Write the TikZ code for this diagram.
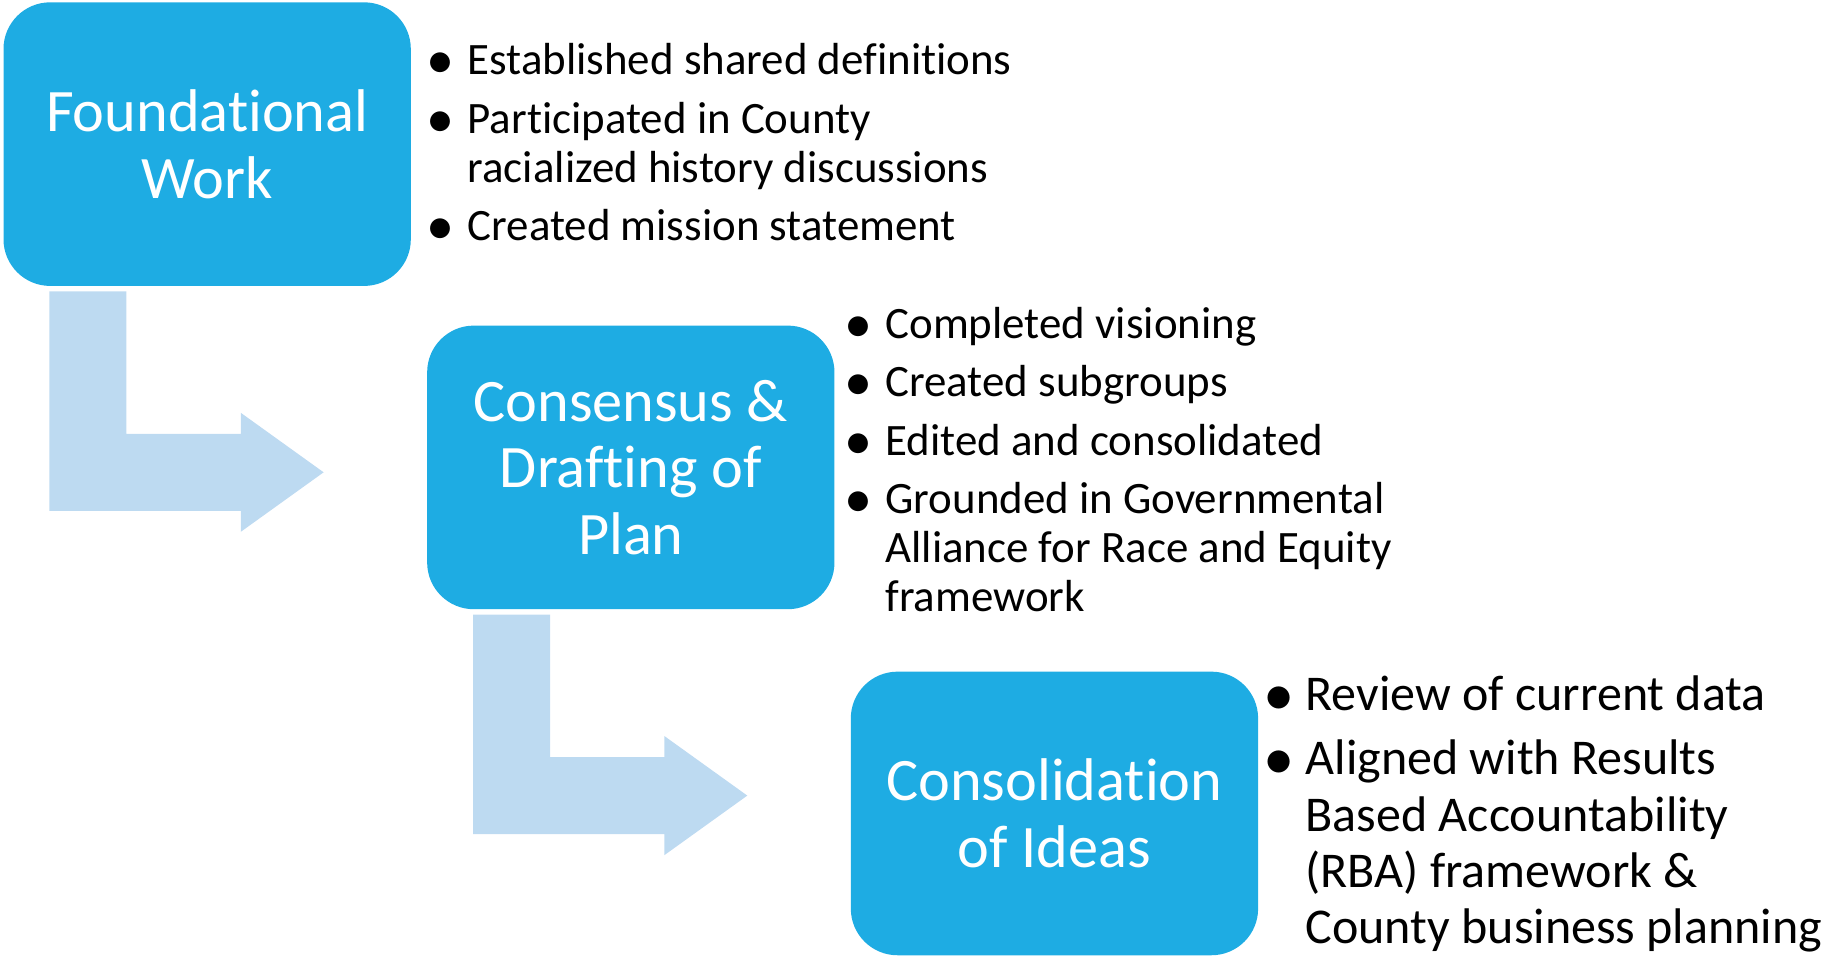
\documentclass[tikz,border=0pt]{standalone}
\usepackage{graphicx}
\usepackage{fontspec}
\setmainfont{Carlito}[Ligatures=NoCommon]
\usetikzlibrary{positioning}
\definecolor{boxblue}{HTML}{1EACE3}
\definecolor{arrowblue}{HTML}{BDDAF1}
\newcommand\bul{\makebox[1.4mm]{\raisebox{-0.09em}{\scalebox{1.25}{\textbullet}}}}
\tikzset{
    stage/.style={rectangle, rounded corners=4mm, fill=boxblue, text=white,
        minimum width=34.9mm, minimum height=24.3mm, align=center,
        font=\fontsize{14.7}{16.2}\selectfont},
    items/.style={anchor=base west, inner sep=0pt},
    bentarrow/.pic={
        \fill[arrowblue] (40,4) -- (106,4) -- (106,126) -- (204,126) -- (204,108)
            -- (275,159) -- (204,210) -- (204,192) -- (40,192) -- cycle;
    }
}
\begin{document}
\begin{tikzpicture}[x=0.1mm, y=-0.1mm]
    \useasboundingbox (0,0) rectangle (1568,820);
    \node[stage] at (177.5,123.5)(found){Foundational\\Work};
    \node[stage] at (540.5,400.5)(draft){Consensus \&\\Drafting of\\Plan};
    \node[stage] at (903.5,697)(ideas){Consolidation\\of Ideas};

    \pic at (found.south west){bentarrow};
    \pic at (draft.south west){bentarrow};

    \node[items, font=\fontsize{10.95}{11.95}\selectfont] at (370,64)(foundlist){%
        \begin{tabular}[t]{@{}p{3mm}@{}l@{}}
        \bul & Established shared definitions\\[2.3pt]
        \bul & Participated in County\\
             & racialized history discussions\\[2.3pt]
        \bul & Created mission statement
        \end{tabular}};
    \node[items, font=\fontsize{10.95}{11.95}\selectfont] at (728,290)(draftlist){%
        \begin{tabular}[t]{@{}p{3mm}@{}l@{}}
        \bul & Completed visioning\\[2.3pt]
        \bul & Created subgroups\\[2.3pt]
        \bul & Edited and consolidated\\[2.3pt]
        \bul & Grounded in Governmental\\
             & Alliance for Race and Equity\\
             & framework
        \end{tabular}};
    \node[items, font=\fontsize{12.2}{13.66}\selectfont] at (1088,609)(ideaslist){%
        \begin{tabular}[t]{@{}p{3mm}@{}l@{}}
        \bul & Review of current data\\[2pt]
        \bul & Aligned with Results\\
             & Based Accountability\\
             & (RBA) framework \&\\
             & County business planning
        \end{tabular}};
\end{tikzpicture}
\end{document}
